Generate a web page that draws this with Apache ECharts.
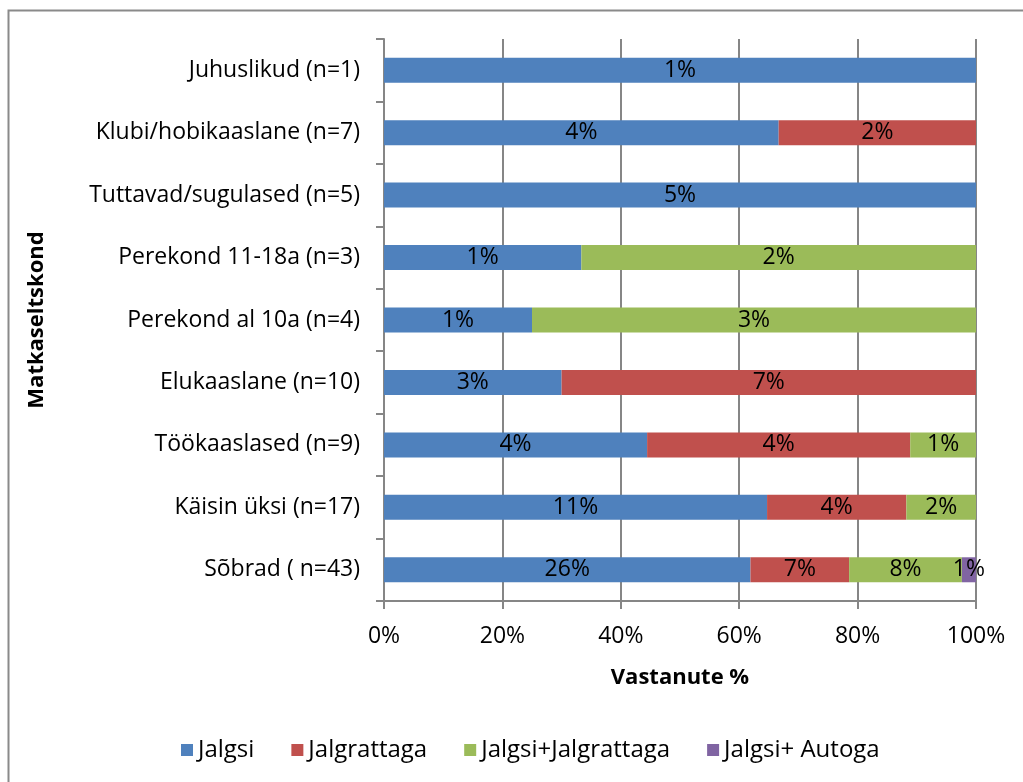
<!DOCTYPE html>
<html>
<head>
<meta charset="utf-8">
<script src="https://cdn.jsdelivr.net/npm/echarts@6/dist/echarts.min.js"></script>
<style>
  html, body { margin: 0; padding: 0; background: #fff; }
  #chart { width: 1023px; height: 782px; }
</style>
</head>
<body>
<div id="chart"></div>
<script>
// categories, bottom to top
const categories = [
  "Sõbrad ( n=43)",
  "Käisin üksi (n=17)",
  "Töökaaslased (n=9)",
  "Elukaaslane (n=10)",
  "Perekond al 10a (n=4)",
  "Perekond 11-18a (n=3)",
  "Tuttavad/sugulased (n=5)",
  "Klubi/hobikaaslane (n=7)",
  "Juhuslikud (n=1)"
];

// values shown in the bar labels (%)
const jalgsi = [26, 11, 4, 3, 1, 1, 5, 4, 1];
const jalgrattaga = [7, 4, 4, 7, 0, 0, 0, 2, 0];
const jalgsiJalgrattaga = [8, 2, 1, 0, 3, 2, 0, 0, 0];
const jalgsiAutoga = [1, 0, 0, 0, 0, 0, 0, 0, 0];

const seriesNames = ["Jalgsi", "Jalgrattaga", "Jalgsi+Jalgrattaga", "Jalgsi+ Autoga"];
const seriesColors = ["#4F81BD", "#C0504D", "#9BBB59", "#8064A2"];
const xTicks = ["0%", "20%", "40%", "60%", "80%", "100%"];

const allSeries = [jalgsi, jalgrattaga, jalgsiJalgrattaga, jalgsiAutoga];
const rowTotals = categories.map((c, i) => allSeries.reduce((s, arr) => s + arr[i], 0));

const font = "Open Sans";
const chart = echarts.init(document.getElementById("chart"));

const option = {
  animation: false,
  textStyle: { fontFamily: font },
  graphic: [{
    type: "rect",
    shape: { x: 8.5, y: 10.5, width: 1040, height: 800 },
    style: { fill: "none", stroke: "#8a8a8a", lineWidth: 2 },
    silent: true
  }],
  grid: { left: 384, right: 47, top: 39, bottom: 181 },
  legend: {
    bottom: 15,
    left: 176,
    itemWidth: 12,
    itemHeight: 12,
    itemGap: 37,
    icon: "rect",
    textStyle: { fontFamily: font, fontSize: 24, color: "#000" },
    data: seriesNames
  },
  xAxis: {
    type: "value",
    min: 0,
    max: 100,
    interval: 20,
    name: "Vastanute %",
    nameLocation: "middle",
    nameGap: 66,
    nameTextStyle: { fontFamily: font, fontSize: 22, fontWeight: "bold", color: "#000" },
    axisLine: { show: true, lineStyle: { color: "#868686", width: 2 } },
    axisTick: { show: true, length: 8, lineStyle: { color: "#868686", width: 2 } },
    axisLabel: {
      fontSize: 23, color: "#000", margin: 24,
      formatter: v => xTicks[Math.round(v / 20)]
    },
    splitLine: { show: true, lineStyle: { color: "#868686", width: 2 } }
  },
  yAxis: {
    type: "category",
    data: categories,
    name: "Matkaseltskond",
    nameLocation: "middle",
    nameGap: 336,
    nameTextStyle: { fontFamily: font, fontSize: 22, fontWeight: "bold", color: "#000" },
    axisLine: { show: true, lineStyle: { color: "#868686", width: 2 } },
    axisTick: { show: true, length: 8, lineStyle: { color: "#868686", width: 2 } },
    axisLabel: { fontSize: 23, color: "#000", margin: 24 }
  },
  series: allSeries.map((arr, k) => ({
    name: seriesNames[k],
    type: "bar",
    stack: "total",
    barWidth: 25,
    itemStyle: { color: seriesColors[k] },
    label: {
      show: true,
      position: "inside",
      color: "#000",
      fontSize: 23,
      fontFamily: font,
      formatter: p => p.data.raw + "%"
    },
    data: arr.map((v, i) => v === 0 ? { value: 0, raw: 0, label: { show: false } } : { value: v / rowTotals[i] * 100, raw: v })
  }))
};

chart.setOption(option);
</script>
</body>
</html>
